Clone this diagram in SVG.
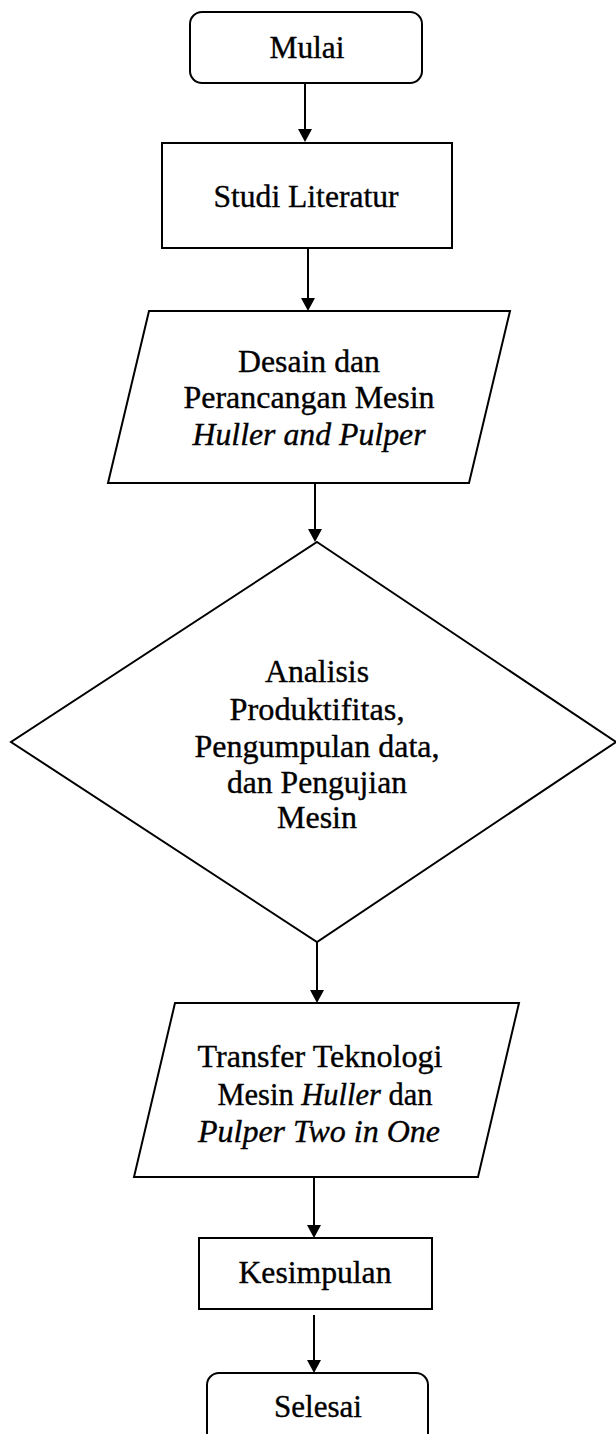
<svg xmlns="http://www.w3.org/2000/svg" width="616" height="1434" viewBox="0 0 616 1434">
<style>
.s{fill:#fff;stroke:#000;stroke-width:2}
.t{font-family:"Liberation Serif","Times New Roman",serif;font-size:31px;fill:#000;stroke:#000;stroke-width:0.35;text-anchor:middle}
.i{font-style:italic}
.c{stroke:#000;stroke-width:2;fill:none}
</style>
<rect width="616" height="1434" fill="#fff"/>
<g id="connectors">
<line class="c" x1="305" y1="83" x2="305" y2="129"/><path d="M298,129 L312,129 L305,142 Z"/>
<line class="c" x1="308" y1="248" x2="308" y2="298"/><path d="M301,298 L315,298 L308,311 Z"/>
<line class="c" x1="315" y1="483" x2="315" y2="529"/><path d="M308,529 L322,529 L315,542 Z"/>
<line class="c" x1="317" y1="942" x2="317" y2="990"/><path d="M310,990 L324,990 L317,1003 Z"/>
<line class="c" x1="314" y1="1177" x2="314" y2="1225"/><path d="M307,1225 L321,1225 L314,1238 Z"/>
<line class="c" x1="314" y1="1315" x2="314" y2="1360"/><path d="M307,1360 L321,1360 L314,1373 Z"/>
</g>
<g id="mulai">
<rect class="s" x="190" y="12" width="232" height="71" rx="12"/>
<text class="t" x="307" y="58" textLength="75" lengthAdjust="spacingAndGlyphs">Mulai</text>
</g>
<g id="studi">
<rect class="s" x="162" y="143" width="290" height="105"/>
<text class="t" x="306" y="207" textLength="185" lengthAdjust="spacingAndGlyphs">Studi Literatur</text>
</g>
<g id="desain">
<polygon class="s" points="149,311 510,311 469,483 108,483"/>
<text class="t" x="309" y="372" textLength="142" lengthAdjust="spacingAndGlyphs">Desain dan</text>
<text class="t" x="309" y="408" textLength="251" lengthAdjust="spacingAndGlyphs">Perancangan Mesin</text>
<text class="t i" x="309" y="445" textLength="233" lengthAdjust="spacingAndGlyphs">Huller and Pulper</text>
</g>
<g id="analisis">
<polygon class="s" points="317,542 616,742 317,942 11,742"/>
<text class="t" x="317" y="682" textLength="104" lengthAdjust="spacingAndGlyphs">Analisis</text>
<text class="t" x="317" y="720" textLength="175" lengthAdjust="spacingAndGlyphs">Produktifitas,</text>
<text class="t" x="317" y="757" textLength="245" lengthAdjust="spacingAndGlyphs">Pengumpulan data,</text>
<text class="t" x="317" y="793" textLength="180" lengthAdjust="spacingAndGlyphs">dan Pengujian</text>
<text class="t" x="317" y="828" textLength="80" lengthAdjust="spacingAndGlyphs">Mesin</text>
</g>
<g id="transfer">
<polygon class="s" points="175,1003 519,1003 478,1177 134,1177"/>
<text class="t" x="320" y="1067" textLength="245" lengthAdjust="spacingAndGlyphs">Transfer Teknologi</text>
<text class="t" x="325" y="1105" textLength="215" lengthAdjust="spacingAndGlyphs">Mesin <tspan class="i">Huller</tspan> dan</text>
<text class="t i" x="319" y="1142" textLength="242" lengthAdjust="spacingAndGlyphs">Pulper Two in One</text>
</g>
<g id="kesimpulan">
<rect class="s" x="199" y="1238" width="233" height="71"/>
<text class="t" x="315" y="1283" textLength="153" lengthAdjust="spacingAndGlyphs">Kesimpulan</text>
</g>
<g id="selesai">
<rect class="s" x="207" y="1373" width="221" height="80" rx="12"/>
<text class="t" x="318" y="1417" textLength="88" lengthAdjust="spacingAndGlyphs">Selesai</text>
</g>
</svg>
